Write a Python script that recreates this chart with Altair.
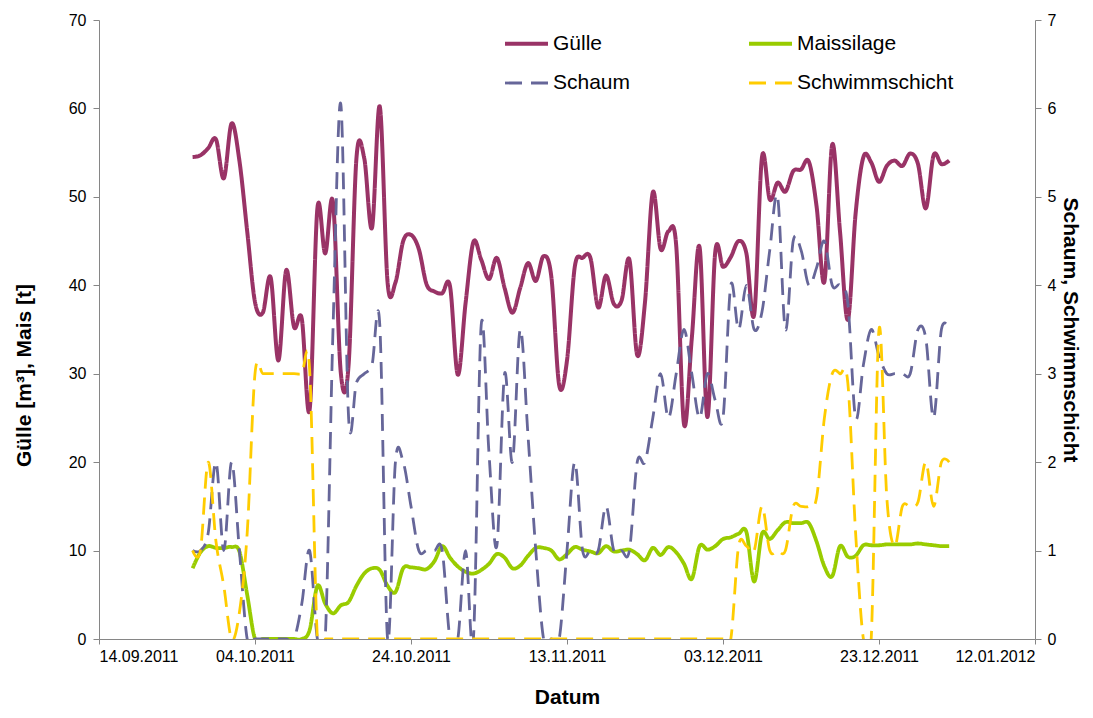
import altair as alt
import pandas as pd

start_date = "2011-09-26"

guelle = [54.5, 54.7, 55.5, 56.5, 52.1, 58.3, 54.1, 46.1, 38.1, 36.9,
          40.9, 31.5, 41.7, 35.3, 36.2, 25.9, 48.7, 43.6, 49.4, 30.1,
          31.0, 54.3, 54.4, 46.5, 60.2, 40.3, 40.3, 45.0, 45.7, 44.1,
          40.1, 39.3, 39.1, 39.9, 29.9, 38.0, 44.9, 42.9, 40.7, 43.1,
          39.7, 36.9, 39.7, 42.5, 40.5, 43.3, 40.9, 28.7, 31.5, 42.1,
          43.1, 43.1, 37.5, 41.1, 37.9, 38.3, 42.9, 32.1, 38.1, 50.5,
          44.1, 46.1, 44.5, 24.3, 34.0, 44.3, 25.1, 43.7, 42.1, 43.2,
          45.0, 43.6, 36.7, 54.5, 49.7, 51.6, 50.6, 52.9, 53.1, 54.0,
          48.9, 40.4, 55.9, 46.1, 36.1, 48.1, 54.5, 53.9, 51.7, 53.5,
          54.1, 53.5, 54.9, 53.7, 48.7, 54.7, 53.7, 54.1]

mais = [8.0, 9.8, 10.5, 10.3, 10.3, 10.4, 9.9, 5.0, 0, 0,
        0, 0, 0, 0, 0, 1.0, 6.0, 4.0, 2.9, 3.8,
        4.2, 6.0, 7.4, 8.0, 7.8, 6.0, 5.3, 8.0, 8.1, 8.0,
        7.9, 8.8, 10.5, 9.2, 8.2, 7.6, 7.4, 7.8, 8.5, 9.6,
        9.2, 8.0, 8.3, 9.4, 10.3, 10.3, 10.0, 9.0, 9.6, 10.4,
        10.1, 9.9, 9.7, 10.5, 9.9, 10.0, 10.1, 9.6, 8.9, 10.3,
        9.5, 10.4, 9.8, 8.5, 6.8, 10.5, 10.1, 10.5, 11.3, 11.5,
        11.9, 12.1, 6.5, 11.9, 11.3, 12.3, 13.2, 13.1, 13.1, 13.1,
        11.0, 8.2, 7.1, 10.5, 9.3, 9.4, 10.6, 10.6, 10.6, 10.7,
        10.7, 10.7, 10.7, 10.8, 10.7, 10.6, 10.5, 10.5]

schaum = [1.0, 1.0, 1.2, 2.0, 1.0, 2.0, 1.0, 0, 0, 0,
          0, 0, 0, 0, 0.4, 1.0, 0, 0, 3.5, 6.05,
          2.5, 2.9, 3.0, 3.1, 3.55, 0, 2.0, 2.0, 1.5, 1.0,
          1.0, 1.0, 1.0, 0, 0, 1.0, 0, 3.55, 2.1, 1.05,
          3.0, 2.0, 3.5, 2.3, 1.0, 0, 0, 0, 1.0, 2.0,
          1.0, 1.0, 1.0, 1.5, 1.0, 1.0, 1.0, 2.0, 2.0, 2.5,
          3.0, 2.5, 3.0, 3.5, 3.0, 2.5, 3.0, 2.7, 2.5, 4.0,
          3.5, 4.0, 3.5, 3.7, 4.4, 5.0, 3.5, 4.5, 4.4, 4.0,
          4.2, 4.5, 4.0, 4.0, 3.8, 2.5, 3.1, 3.5, 3.2, 3.0,
          3.0, 3.0, 3.0, 3.5, 3.4, 2.5, 3.5, 3.5]

schwimm = [1.0, 1.0, 2.0, 1.1, 0.6, 0, 0.3, 1.2, 3.0, 3.0,
           3.0, 3.0, 3.0, 3.0, 3.0, 3.05, 0, 0, 0, 0,
           0, 0, 0, 0, 0, 0, 0, 0, 0, 0,
           0, 0, 0, 0, 0, 0, 0, 0, 0, 0,
           0, 0, 0, 0, 0, 0, 0, 0, 0, 0,
           0, 0, 0, 0, 0, 0, 0, 0, 0, 0,
           0, 0, 0, 0, 0, 0, 0, 0, 0, 0,
           1.05, 1.05, 1.0, 1.5, 1.0, 1.0, 1.0, 1.5, 1.5, 1.5,
           1.6, 2.5, 3.0, 3.0, 2.9, 1.2, 0, 0, 3.5, 1.6,
           1.05, 1.5, 1.5, 1.55, 2.0, 1.5, 2.0, 2.0]

# legend order (grid fills column by column): Gülle, Schaum | Maissilage, Schwimmschicht
series_names = ["Gülle", "Schaum", "Maissilage", "Schwimmschicht"]
series_colors = ["#993366", "#666699", "#99CC00", "#FFCC00"]
series_dash = [[1, 0], [17, 9], [1, 0], [17, 9]]
series_width = [4, 2.8, 3.8, 2.8]

tick_dates = ["2011-09-14", "2011-10-04", "2011-10-24", "2011-11-13",
              "2011-12-03", "2011-12-23", "2012-01-12"]
left_ticks = [0, 10, 20, 30, 40, 50, 60, 70]
right_ticks = [0, 1, 2, 3, 4, 5, 6, 7]

dates = pd.date_range(start_date, periods=len(guelle), freq="D").strftime("%Y-%m-%d").tolist()
df = pd.DataFrame({"Datum": dates, "Gülle": guelle, "Maissilage": mais,
                   "Schaum": schaum, "Schwimmschicht": schwimm})


def dt(s):
    y, m, d = (int(p) for p in s.split("-"))
    return alt.DateTime(year=y, month=m, date=d, utc=True)


FONT = "Liberation Sans"

legend = alt.Legend(orient="none", legendX=404, legendY=0, columns=2,
                    symbolType="stroke", symbolSize=1849, labelFont=FONT,
                    labelFontSize=21, labelColor="black", labelOffset=3,
                    columnPadding=110, rowPadding=6, title=None)

x_enc = alt.X("Datum:T",
              scale=alt.Scale(type="utc", domain=[dt(tick_dates[0]), dt(tick_dates[-1])]),
              axis=alt.Axis(values=[dt(s) for s in tick_dates],
                            labelExpr="utcFormat(datum.value, '%d.%m.%Y')",
                            title="Datum", titlePadding=22,
                            labelPadding=4, tickSize=5))

color_enc = alt.Color("series:N", scale=alt.Scale(domain=series_names, range=series_colors),
                      sort=series_names, legend=legend)
dash_enc = alt.StrokeDash("series:N", scale=alt.Scale(domain=series_names, range=series_dash),
                          sort=series_names, legend=legend)
width_enc = alt.StrokeWidth("series:N",
                            scale=alt.Scale(type="ordinal", domain=series_names, range=series_width),
                            sort=series_names, legend=legend)

left = alt.Chart(df).transform_fold(
    ["Gülle", "Maissilage"], as_=["series", "value"]
).mark_line(interpolate="cardinal", tension=0, clip=True).encode(
    x=x_enc,
    y=alt.Y("value:Q", scale=alt.Scale(domain=[0, 70], nice=False),
            axis=alt.Axis(orient="left", values=left_ticks, title="Gülle [m³], Mais [t]",
                          titlePadding=34, titleY=355, labelPadding=7, tickSize=6)),
    color=color_enc, strokeDash=dash_enc, strokeWidth=width_enc,
)

right = alt.Chart(df).transform_fold(
    ["Schaum", "Schwimmschicht"], as_=["series", "value"]
).mark_line(interpolate="cardinal", tension=0, clip=True).encode(
    x=x_enc,
    y=alt.Y("value:Q", scale=alt.Scale(domain=[0, 7], nice=False),
            axis=alt.Axis(orient="right", values=right_ticks, title="Schaum, Schwimmschicht",
                          titlePadding=4, labelPadding=6, tickSize=6)),
    color=color_enc, strokeDash=dash_enc, strokeWidth=width_enc,
)

chart = alt.layer(left, right).resolve_scale(y="independent").properties(
    width=936, height=619,
    autosize=alt.AutoSizeParams(type="none"),
    padding={"left": 91, "top": 12, "right": 50, "bottom": 70},
).configure_view(strokeWidth=0).configure_axis(
    grid=False, labelFont=FONT, labelFontSize=16, labelColor="black",
    titleFont=FONT, titleFontSize=21, titleFontWeight="bold", titleColor="black",
    domainColor="#868686", tickColor="#868686",
)

chart.save("out.html", embed_options={"renderer": "svg", "actions": False})
